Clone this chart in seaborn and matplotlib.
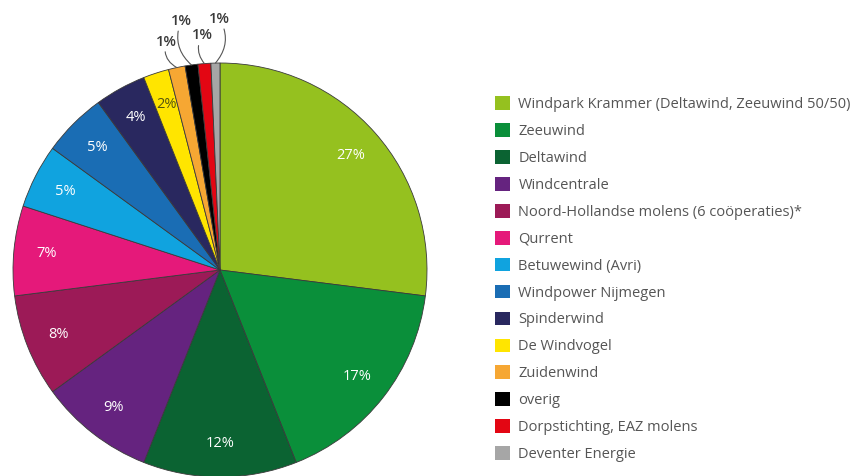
import numpy as np
import matplotlib
matplotlib.use("Agg")
import matplotlib.pyplot as plt
from matplotlib.patches import Patch
import seaborn as sns

# shares per cooperative (percent), clockwise from 12 o'clock
names = [
    "Windpark Krammer (Deltawind, Zeeuwind 50/50)",
    "Zeeuwind",
    "Deltawind",
    "Windcentrale",
    "Noord-Hollandse molens (6 coöperaties)*",
    "Qurrent",
    "Betuwewind (Avri)",
    "Windpower Nijmegen",
    "Spinderwind",
    "De Windvogel",
    "Zuidenwind",
    "overig",
    "Dorpstichting, EAZ molens",
    "Deventer Energie",
]
shares = [27, 17, 12, 9, 8, 7, 5, 5, 4, 2, 1.3, 1, 1, 0.7]
colors = [
    "#95c11f", "#0a8f3a", "#0b6332", "#65237f", "#9c1a57", "#e5197a", "#10a3df",
    "#1a6db4", "#29285f", "#ffe500", "#f6a733", "#000000", "#e30613", "#a6a6a6",
]

sns.set_theme(style="white")
plt.rcParams["font.family"] = ["Open Sans", "DejaVu Sans"]

W, H = 859, 476
fig = plt.figure(figsize=(W / 100, H / 100), dpi=100)
fig.patch.set_facecolor("white")

# pie centre at (220, 270) px, radius 207 px
R_PX, CX, CY = 207, 220, 270
ax = fig.add_axes([0, 0, 440 / W, 1])
wedges, _ = ax.pie(
    shares,
    colors=colors,
    startangle=90,
    counterclock=False,
    radius=1,
    wedgeprops=dict(edgecolor="#3a3a3a", linewidth=0.6),
)
ax.set_xlim(-CX / R_PX, (440 - CX) / R_PX)
ax.set_ylim(-(H - CY) / R_PX, CY / R_PX)
ax.set_aspect("auto")
ax.axis("off")

# small slices get outside labels with curved leader lines
outside = {10: (-0.05, 1.07, 0.4), 11: (-0.05, 1.17, 0.35),
           12: (-0.01, 1.10, 0.35), 13: (0.02, 1.18, -0.35)}
for i, (w, v) in enumerate(zip(wedges, shares)):
    mid = np.deg2rad((w.theta1 + w.theta2) / 2)
    label = f"{round(v)}%"
    if i in outside:
        dx, ty, rad = outside[i]
        x0, y0 = np.cos(mid), np.sin(mid)
        ax.annotate(label, xy=(x0, y0), xytext=(x0 + dx, ty),
                    ha="center", va="bottom", fontsize=10.5, color="#3a3a3a",
                    fontweight="semibold",
                    arrowprops=dict(arrowstyle="-", color="#555555", lw=0.8,
                                    shrinkA=0, shrinkB=0,
                                    connectionstyle=f"arc3,rad={rad}"))
    else:
        r = 0.84
        col = "#55540f" if colors[i] == "#ffe500" else "white"
        ax.text(r * np.cos(mid), r * np.sin(mid), label, ha="center",
                va="center", fontsize=10.5, color=col)

handles = [Patch(facecolor=c, edgecolor="none") for c in colors]
fig.legend(
    handles, names,
    loc="upper left",
    bbox_to_anchor=(495 / W, 1 - 96.5 / H),
    frameon=False,
    fontsize=10.5,
    labelcolor="#555555",
    handlelength=1.05,
    handleheight=1.05,
    handletextpad=0.55,
    labelspacing=0.765,
    borderpad=0,
    borderaxespad=0,
)

fig.savefig("out.png", dpi=100, facecolor="white")
